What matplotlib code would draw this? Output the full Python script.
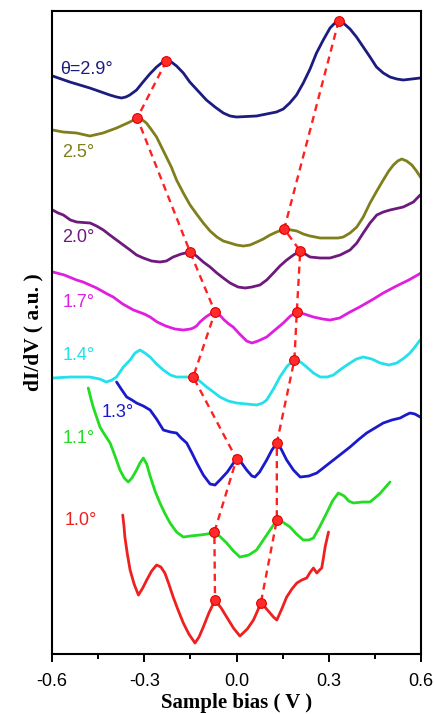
import matplotlib
matplotlib.use("Agg")
import matplotlib.pyplot as plt
from matplotlib.ticker import MultipleLocator

plt.rcParams['axes.unicode_minus'] = False

# dI/dV spectra, offset vertically (a.u.), x in V
v29 = [-0.598, -0.542, -0.477, -0.412, -0.390, -0.374, -0.360, -0.347, -0.325, -0.304, -0.282,
       -0.260, -0.244, -0.228, -0.212, -0.195, -0.173, -0.152, -0.125, -0.098, -0.070, -0.043,
       -0.021, 0.0, 0.065, 0.130, 0.152, 0.173, 0.195, 0.217, 0.239, 0.260, 0.282, 0.304,
       0.320, 0.332, 0.347, 0.369, 0.390, 0.412, 0.434, 0.455, 0.477, 0.499, 0.521, 0.542,
       0.570, 0.597]
s29 = [578, 572, 566, 559, 557, 556, 557, 559, 564, 572, 580,
       587, 591, 593, 592, 588, 581, 572, 563, 554, 547, 541,
       538, 537, 538, 542, 545, 551, 559, 571, 585, 601, 614, 626,
       631, 633, 631, 625, 617, 607, 597, 587, 581, 577, 575, 574,
       575, 576]

v25 = [-0.598, -0.564, -0.520, -0.477, -0.434, -0.390, -0.347, -0.335, -0.323, -0.310, -0.293,
       -0.276, -0.260, -0.244, -0.228, -0.212, -0.195, -0.173, -0.151, -0.130, -0.108, -0.086,
       -0.064, -0.043, -0.021, 0.0, 0.022, 0.044, 0.066, 0.087, 0.109, 0.130, 0.158, 0.178,
       0.196, 0.217, 0.239, 0.272, 0.304, 0.330, 0.347, 0.369, 0.391, 0.412, 0.434, 0.456,
       0.477, 0.495, 0.510, 0.524, 0.537, 0.553, 0.570, 0.585, 0.600]
s25 = [524, 522, 521, 518, 521, 526, 532, 534, 536, 535, 531,
       524, 517, 507, 497, 487, 474, 461, 449, 440, 431, 423,
       417, 413, 411, 409, 408, 409, 412, 415, 419, 422, 425, 424,
       423, 420, 418, 416, 416, 416, 417, 421, 427, 437, 451, 463,
       474, 483, 489, 493, 495, 493, 489, 483, 476]

v20 = [-0.598, -0.580, -0.563, -0.540, -0.520, -0.476, -0.455, -0.433, -0.412, -0.390, -0.368,
       -0.346, -0.325, -0.303, -0.276, -0.249, -0.228, -0.206, -0.180, -0.151, -0.130, -0.108,
       -0.086, -0.064, -0.043, -0.021, 0.005, 0.028, 0.050, 0.076, 0.098, 0.120, 0.141, 0.163,
       0.185, 0.207, 0.223, 0.239, 0.272, 0.304, 0.337, 0.369, 0.391, 0.412, 0.434, 0.456,
       0.477, 0.499, 0.542, 0.575, 0.597]
s20 = [444, 441, 439, 434, 432, 431, 428, 424, 419, 414, 409,
       404, 399, 396, 393, 392, 393, 397, 400, 402, 398, 392,
       387, 381, 376, 371, 367, 366, 367, 369, 374, 381, 388, 394,
       399, 403, 400, 397, 396, 396, 399, 404, 411, 421, 431, 439,
       442, 444, 447, 452, 459]

v17 = [-0.597, -0.560, -0.520, -0.499, -0.455, -0.420, -0.401, -0.370, -0.335, -0.300, -0.281,
       -0.258, -0.230, -0.200, -0.173, -0.150, -0.141, -0.130, -0.119, -0.100, -0.085, -0.070,
       -0.055, -0.040, -0.025, -0.011, 0.010, 0.033, 0.050, 0.070, 0.098, 0.125, 0.152, 0.175,
       0.196, 0.220, 0.250, 0.280, 0.304, 0.335, 0.369, 0.400, 0.440, 0.477, 0.520, 0.560,
       0.600]
s17 = [382, 379, 374, 372, 366, 360, 357, 350, 344, 340, 337,
       332, 328, 325, 324, 325, 326, 328, 332, 337, 340, 342,
       339, 334, 330, 327, 320, 313, 311, 313, 317, 324, 331, 338,
       342, 340, 337, 335, 334, 336, 342, 347, 354, 361, 368, 374,
       381]

v14 = [-0.598, -0.541, -0.477, -0.445, -0.423, -0.405, -0.390, -0.368, -0.346, -0.330, -0.314,
       -0.298, -0.281, -0.260, -0.238, -0.215, -0.195, -0.141, -0.120, -0.097, -0.075, -0.054,
       -0.027, 0.0, 0.033, 0.066, 0.085, 0.098, 0.120, 0.141, 0.165, 0.188, 0.208, 0.228,
       0.250, 0.272, 0.295, 0.315, 0.340, 0.369, 0.390, 0.412, 0.440, 0.467, 0.495, 0.521,
       0.545, 0.564, 0.580, 0.597]
s14 = [276, 277, 277, 275, 272, 274, 277, 287, 294, 301, 304,
       301, 297, 290, 284, 279, 277, 277, 273, 267, 262, 257,
       253, 251, 250, 249, 251, 254, 265, 277, 288, 294, 292, 287,
       281, 277, 277, 279, 285, 291, 295, 297, 295, 291, 289, 291,
       296, 301, 307, 314]

v13 = [-0.390, -0.375, -0.357, -0.340, -0.325, -0.303, -0.281, -0.260, -0.238, -0.215, -0.195,
       -0.180, -0.162, -0.145, -0.129, -0.108, -0.086, -0.070, -0.054, -0.030, -0.010, 0.0,
       0.012, 0.033, 0.050, 0.060, 0.075, 0.098, 0.115, 0.131, 0.145, 0.163, 0.185, 0.207,
       0.235, 0.261, 0.290, 0.315, 0.340, 0.369, 0.395, 0.423, 0.450, 0.477, 0.505, 0.532,
       0.550, 0.564, 0.580, 0.597]
s13 = [272, 265, 257, 254, 251, 248, 244, 235, 224, 222, 221,
       216, 211, 201, 191, 179, 170, 169, 174, 182, 191, 195,
       193, 184, 178, 177, 182, 194, 204, 211, 205, 194, 184, 177,
       178, 181, 188, 194, 200, 207, 214, 221, 226, 231, 234, 236,
       239, 241, 240, 237]

v11 = [-0.482, -0.474, -0.466, -0.455, -0.444, -0.428, -0.411, -0.395, -0.379, -0.365, -0.352,
       -0.340, -0.325, -0.314, -0.303, -0.292, -0.281, -0.265, -0.249, -0.232, -0.216, -0.195,
       -0.173, -0.150, -0.119, -0.095, -0.072, -0.052, -0.032, -0.010, 0.011, 0.040, 0.065,
       0.098, 0.131, 0.150, 0.174, 0.195, 0.217, 0.235, 0.250, 0.270, 0.293, 0.312, 0.331,
       0.350, 0.365, 0.380, 0.410, 0.434, 0.465, 0.499]
s11 = [266, 256, 247, 237, 227, 219, 211, 198, 184, 176, 172,
       176, 184, 191, 196, 190, 178, 163, 151, 140, 131, 122,
       117, 118, 119, 120, 122, 117, 111, 103, 97, 99, 104,
       119, 134, 132, 127, 120, 114, 114, 116, 127, 141, 153, 161,
       158, 153, 151, 152, 152, 160, 172]

v10 = [-0.370, -0.366, -0.363, -0.355, -0.346, -0.333, -0.319, -0.305, -0.292, -0.276, -0.260,
       -0.246, -0.233, -0.220, -0.206, -0.190, -0.173, -0.155, -0.135, -0.122, -0.108, -0.090,
       -0.070, -0.050, -0.032, -0.010, 0.011, 0.035, 0.055, 0.068, 0.079, 0.095, 0.109, 0.120,
       0.131, 0.147, 0.163, 0.180, 0.196, 0.212, 0.228, 0.240, 0.250, 0.261, 0.270, 0.277,
       0.283, 0.288, 0.299]
s10 = [139, 128, 117, 100, 84, 70, 59, 66, 74, 83, 89,
       87, 81, 70, 57, 44, 31, 20, 11, 17, 27, 41,
       54, 46, 37, 26, 18, 25, 34, 43, 51, 46, 41, 37,
       34, 45, 57, 65, 71, 74, 76, 82, 86, 81, 84, 86,
       97, 107, 122]

# peak positions tracked across twist angles (top to bottom)
left_v = [-0.228, -0.323, -0.151, -0.070, -0.141, 0.0, -0.072, -0.070]
left_s = [593, 536, 402, 342, 277, 195, 122, 54]
right_v = [0.332, 0.155, 0.207, 0.196, 0.188, 0.131, 0.131, 0.079]
right_s = [633, 425, 403, 342, 294, 211, 134, 51]

curves = [
    (v29, s29, '#1c1c80', '\u03b8=2.9\u00b0', -0.572, 584),
    (v25, s25, '#7f7f1c', '2.5\u00b0', -0.566, 502),
    (v20, s20, '#6e1a7c', '2.0\u00b0', -0.566, 417),
    (v17, s17, '#e01ee0', '1.7\u00b0', -0.566, 352),
    (v14, s14, '#22e0ec', '1.4\u00b0', -0.566, 299),
    (v13, s13, '#1a1acc', '1.3\u00b0', -0.440, 242),
    (v11, s11, '#22dd22', '1.1\u00b0', -0.566, 216),
    (v10, s10, '#ee2020', '1.0\u00b0', -0.560, 134),
]

fig = plt.figure(figsize=(4.35, 7.14), dpi=100)
ax = fig.add_axes([0.1195, 0.084, 0.8485, 0.9006])

for v, s, c, lab, tx, ty in curves:
    ax.plot(v, s, color=c, lw=2.0, solid_capstyle='round', solid_joinstyle='round')
    ax.text(tx, ty, lab, color=c, fontsize=13, family='Liberation Sans',
            va='center', ha='left')

for pv, ps in [(left_v, left_s), (right_v, right_s)]:
    ax.plot(pv, ps, color='#ff2020', lw=1.7, ls=(0, (3, 2.2)), zorder=3)
    ax.plot(pv, ps, ls='none', marker='o', ms=7, color='#ff2a2a',
            mec='#e00000', mew=0.8, zorder=4)

ax.set_xlim(-0.6, 0.6)
ax.set_ylim(0, 643)
ax.set_xticks([-0.6, -0.3, 0.0, 0.3, 0.6])
ax.set_xticklabels(['-0.6', '-0.3', '0.0', '0.3', '0.6'])
ax.xaxis.set_minor_locator(MultipleLocator(0.15))
ax.set_yticks([])
ax.tick_params(axis='x', which='major', direction='out', length=6, width=1.4,
               labelsize=13, pad=8)
ax.tick_params(axis='x', which='minor', direction='out', length=3.5, width=1.4)
for lab in ax.get_xticklabels():
    lab.set_family('Liberation Sans')
for sp in ax.spines.values():
    sp.set_linewidth(1.5)

ax.set_xlabel('Sample bias ( V )', fontsize=15, fontweight='bold',
              family='Liberation Serif', labelpad=2)
ax.set_ylabel('dI/dV ( a.u. )', fontsize=15.5, fontweight='bold',
              family='Liberation Serif', labelpad=6)

fig.savefig('out.png', dpi=100)
